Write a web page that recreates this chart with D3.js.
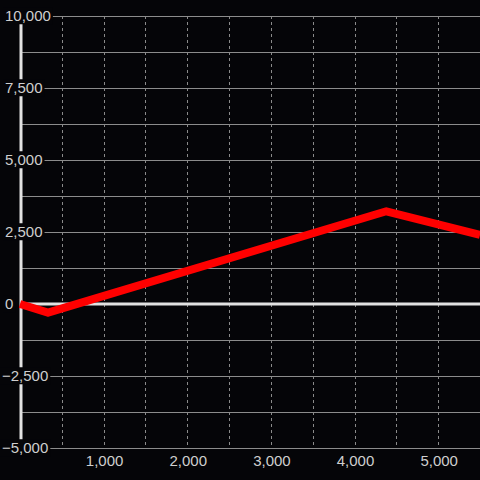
<!DOCTYPE html>
<html>
<head>
<meta charset="utf-8">
<script src="https://cdn.jsdelivr.net/npm/d3@7"></script>
<style>
  html, body { margin: 0; padding: 0; background: #050508; }
  svg { display: block; }
  text { font-family: "Liberation Sans", Arial, sans-serif; font-size: 15px; fill: #cfcfcf; }
</style>
</head>
<body>
<div id="chart"></div>
<script>
// data
const xValues = [0, 335, 4380, 5500];
const yValues = [0, -300, 3220, 2400];
const xTicks = [1000, 2000, 3000, 4000, 5000];
const xGridTicks = [500, 1000, 1500, 2000, 2500, 3000, 3500, 4000, 4500, 5000];
const yTicks = [-5000, -2500, 0, 2500, 5000, 7500, 10000];
const yGridTicks = d3.range(-5000, 10001, 1250);

const width = 480, height = 480;
const plot = { left: 20, right: 480, top: 16, bottom: 448 };

const svg = d3.select('#chart').append('svg')
    .attr('width', width)
    .attr('height', height);

svg.append('rect')
    .attr('width', width)
    .attr('height', height)
    .attr('fill', '#050508');

const x = d3.scaleLinear().domain([0, 5500]).range([plot.left, plot.right]);
const y = d3.scaleLinear().domain([-5000, 10000]).range([plot.bottom, plot.top]);
const fmt = d3.format(',');

// vertical dashed grid
svg.append('g')
    .selectAll('line')
    .data(xGridTicks)
    .join('line')
    .attr('x1', d => Math.round(x(d)) + 0.5)
    .attr('x2', d => Math.round(x(d)) + 0.5)
    .attr('y1', plot.top)
    .attr('y2', plot.bottom)
    .attr('stroke', '#8a8a8a')
    .attr('stroke-width', 1)
    .attr('stroke-dasharray', '3,3');

// horizontal grid
svg.append('g')
    .selectAll('line')
    .data(yGridTicks.filter(d => d !== 0))
    .join('line')
    .attr('x1', plot.left)
    .attr('x2', plot.right)
    .attr('y1', d => Math.round(y(d)) + 0.5)
    .attr('y2', d => Math.round(y(d)) + 0.5)
    .attr('stroke', '#8c8c8c')
    .attr('stroke-width', 1);

// zero line and y axis line
svg.append('line')
    .attr('x1', plot.left)
    .attr('x2', plot.right)
    .attr('y1', y(0))
    .attr('y2', y(0))
    .attr('stroke', '#e2e2e2')
    .attr('stroke-width', 3);

svg.append('line')
    .attr('x1', x(0) + 1)
    .attr('x2', x(0) + 1)
    .attr('y1', plot.top)
    .attr('y2', plot.bottom)
    .attr('stroke', '#e2e2e2')
    .attr('stroke-width', 3);

// y labels with a background box
const yLab = svg.append('g')
    .selectAll('g')
    .data(yTicks)
    .join('g')
    .attr('transform', d => `translate(0,${y(d)})`);

yLab.append('rect').attr('fill', '#050508');
yLab.append('text')
    .attr('x', d => d < 0 ? 2 : 5)
    .attr('dy', '0.35em')
    .text(d => fmt(d));

yLab.each(function() {
    const g = d3.select(this);
    const b = g.select('text').node().getBBox();
    g.select('rect')
        .attr('x', b.x - 2)
        .attr('y', b.y)
        .attr('width', b.width + 4)
        .attr('height', b.height);
});

// x labels
svg.append('g')
    .selectAll('text')
    .data(xTicks)
    .join('text')
    .attr('x', d => x(d) + 1)
    .attr('y', 461)
    .attr('dy', '0.35em')
    .attr('text-anchor', 'middle')
    .text(d => fmt(d));

// the series line
const line = d3.line()
    .x(d => x(d[0]))
    .y(d => y(d[1]));

svg.append('path')
    .datum(xValues.map((v, i) => [v, yValues[i]]))
    .attr('d', line)
    .attr('fill', 'none')
    .attr('stroke', '#ff0000')
    .attr('stroke-width', 8)
    .attr('stroke-linejoin', 'round');
</script>
</body>
</html>
